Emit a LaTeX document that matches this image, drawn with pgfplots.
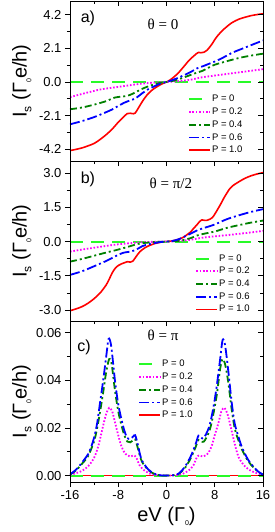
\documentclass[border=0pt]{standalone}
\usepackage{fontspec}
\setmainfont{Liberation Sans}
\newfontfamily\serifth{Liberation Serif}
\usepackage{graphicx}
\usepackage{pgfplots}
\pgfplotsset{compat=1.18}
\definecolor{pzero}{RGB}{40,250,40}
\definecolor{ptwo}{RGB}{255,0,255}
\definecolor{pfour}{RGB}{0,128,0}
\definecolor{psix}{RGB}{0,0,255}
\definecolor{pten}{RGB}{255,0,0}
\newcommand{\lsub}[2]{\raisebox{-0.45ex}{\fontsize{#1}{#1}\selectfont #2}}
\newcommand{\ylab}{I\lsub{12}{s} (Γ\lsub{7}{0}e/h)}
\pgfplotsset{
  legend image code/.code={\draw[#1] (0pt,0pt) -- (21pt,0pt);},
  base/.style={scale only axis, width=193pt, xmin=-16, xmax=16,
    xtick={-16,-8,0,8,16}, minor x tick num=1, minor y tick num=1,
    axis line style={line width=0.8pt},
    every tick/.append style={line width=0.8pt, black},
    major tick length=5pt, minor tick length=3pt,
    tick label style={font=\fontsize{13}{13}\selectfont},
    /pgf/number format/assume math mode=true,
    scaled y ticks=false},
  outer/.style={base, tick align=outside, xtick pos=left, ytick pos=left},
  inner/.style={base, tick align=inside, xtick pos=right, ytick pos=right, xticklabels={}, yticklabels={}},
  leg/.style={legend style={draw=none, fill=none, font=\fontsize{9.5}{9.5}\selectfont,
    row sep=1.2pt, anchor=north west, nodes={inner sep=1pt, text height=7.3pt, text depth=2.2pt}},
    legend cell align=left},
  ylab/.style={ylabel={\ylab}, ylabel style={at={(axis description cs:-0.25,0.5)}, anchor=center, font=\fontsize{20}{20}\selectfont}},
  p0/.style={color=pzero, line width=2pt, dash pattern=on 13pt off 8pt},
  p2/.style={color=ptwo, line width=1.8pt, dash pattern=on 1.6pt off 1.8pt},
  p4/.style={color=pfour, line width=1.8pt, dash pattern=on 7pt off 3pt on 2pt off 3pt},
  p6/.style={color=psix, line width=1.8pt, dash pattern=on 10pt off 3pt on 2pt off 3pt},
  p10/.style={color=pten, line width=1.6pt},
}
\begin{document}
\begin{tikzpicture}
% ---------------- panel a ----------------
\begin{axis}[outer, ylab, leg, at={(0pt,-1pt)}, anchor=north west, height=160pt,
  ymin=-4.95, ymax=5.07, ytick={-4.2,-2.1,0,2.1,4.2}, xticklabels={},
  yticklabel style={/pgf/number format/.cd, fixed, fixed zerofill, precision=1},
  legend style={at={(axis description cs:0.595,0.435)}}]
\addlegendimage{p0}\addlegendentry{P = 0}
\addlegendimage{p2}\addlegendentry{P = 0.2}
\addlegendimage{p4}\addlegendentry{P = 0.4}
\addlegendimage{p6}\addlegendentry{P = 0.6}
\addlegendimage{p10}\addlegendentry{P = 1.0}
\addplot[p10, smooth, forget plot] coordinates {(-16,-4.30) (-15,-4.22) (-14,-4.13) (-13,-4.00) (-12,-3.85) (-11,-3.60) (-10,-3.30) (-9,-2.95) (-8,-2.52) (-7.5,-2.33) (-7,-2.15) (-6.5,-1.98) (-6,-1.96) (-5.5,-1.99) (-5.2,-1.95) (-4.8,-1.72) (-4.45,-1.5) (-4,-1.22) (-3.5,-0.95) (-3,-0.72) (-2.5,-0.54) (-2,-0.4) (-1.5,-0.28) (-1,-0.17) (-0.5,-0.08) (0,0) (0.5,0.1) (1,0.24) (1.5,0.4) (2,0.58) (2.5,0.8) (3,1.02) (3.5,1.25) (4,1.45) (4.5,1.62) (5,1.78) (5.3,1.85) (5.7,1.83) (6.2,1.86) (6.7,1.98) (7.5,2.35) (8,2.65) (8.6,2.95) (9.5,3.3) (10.8,3.7) (12,3.93) (13,4.05) (14,4.15) (15,4.22) (16,4.27)};
\addplot[p0, forget plot] coordinates {(-16,0) (16,0)};
\addplot[p2, smooth, forget plot] coordinates {(-16,-0.95) (-14,-0.75) (-12,-0.56) (-10.8,-0.46) (-9,-0.36) (-8,-0.31) (-6,-0.2) (-5,-0.15) (-4,-0.1) (-2,-0.04) (0,0) (2,0.05) (4,0.14) (5.3,0.25) (6,0.3) (8,0.4) (10,0.5) (12,0.6) (14,0.7) (16,0.8)};
\addplot[p4, smooth, forget plot] coordinates {(-16,-1.71) (-14,-1.6) (-12,-1.42) (-10,-1.2) (-8.6,-0.98) (-7.5,-0.92) (-6.5,-0.87) (-5.5,-0.72) (-4.2,-0.46) (-3,-0.27) (-2,-0.15) (-1,-0.06) (0,0) (1,0.06) (2,0.17) (3,0.3) (4,0.44) (5,0.58) (6,0.7) (7,0.9) (8,1.08) (10,1.3) (12,1.5) (14,1.65) (16,1.77)};
\addplot[p6, smooth, forget plot] coordinates {(-16,-2.65) (-14,-2.45) (-12,-2.2) (-10.8,-2.02) (-9,-1.72) (-8,-1.5) (-7,-1.3) (-6,-1.15) (-5.3,-1.06) (-4.5,-0.85) (-4,-0.7) (-3,-0.45) (-2,-0.27) (-1,-0.1) (0,0) (1,0.12) (2,0.27) (3,0.44) (4,0.62) (5,0.84) (5.5,0.92) (6,0.98) (7,1.13) (8,1.28) (9,1.45) (10,1.65) (11,1.85) (12,2.0) (13,2.15) (14,2.3) (15,2.45) (16,2.6)};
\node[font=\fontsize{16}{16}\selectfont] at (axis description cs:0.093,0.894) {a)};
\node[font=\serifth\fontsize{15}{15}\selectfont] at (axis description cs:0.482,0.856) {θ = 0};
\end{axis}
\begin{axis}[inner, at={(0pt,-1pt)}, anchor=north west, height=160pt,
  ymin=-4.95, ymax=5.07, ytick={-4.2,-2.1,0,2.1,4.2}]
\end{axis}
% ---------------- panel b ----------------
\begin{axis}[outer, ylab, leg, at={(0pt,-161pt)}, anchor=north west, height=160pt,
  ymin=-3.48, ymax=3.53, ytick={-3,-1.5,0,1.5,3}, xticklabels={},
  yticklabel style={/pgf/number format/.cd, fixed, fixed zerofill, precision=1},
  legend style={at={(axis description cs:0.632,0.44)}}]
\addlegendimage{p0}\addlegendentry{P = 0}
\addlegendimage{p2}\addlegendentry{P = 0.2}
\addlegendimage{p4}\addlegendentry{P = 0.4}
\addlegendimage{p6}\addlegendentry{P = 0.6}
\addlegendimage{p10}\addlegendentry{P = 1.0}
\addplot[p10, smooth, forget plot] coordinates {(-16,-3.03) (-15,-2.95) (-14,-2.85) (-13,-2.7) (-12,-2.5) (-11,-2.25) (-10,-1.9) (-9.5,-1.65) (-9,-1.37) (-8.5,-1.17) (-8,-1.05) (-7.5,-0.98) (-7,-0.93) (-6.5,-0.88) (-6,-0.9) (-5.6,-0.86) (-5.2,-0.72) (-4.8,-0.57) (-4.4,-0.44) (-4,-0.35) (-3.5,-0.26) (-3,-0.19) (-2.5,-0.14) (-2,-0.09) (-1,-0.03) (0,0) (1,0.03) (2,0.1) (2.5,0.15) (3,0.22) (3.5,0.32) (4,0.42) (4.5,0.58) (5,0.72) (5.5,0.88) (5.85,0.95) (6.3,0.93) (6.7,0.93) (7.2,0.98) (7.6,1.05) (8,1.2) (8.5,1.42) (9,1.65) (9.5,1.9) (10,2.12) (10.5,2.32) (11,2.45) (12,2.62) (13,2.77) (14,2.88) (15,2.96) (16,3.02)};
\addplot[p0, forget plot] coordinates {(-16,0) (16,0)};
\addplot[p2, smooth, forget plot] coordinates {(-16,-0.44) (-14,-0.35) (-12,-0.27) (-10,-0.19) (-8,-0.12) (-6,-0.07) (-4,-0.03) (-2,-0.01) (0,0) (2,0.02) (4,0.08) (6,0.17) (8,0.23) (10,0.28) (12,0.34) (14,0.4) (16,0.47)};
\addplot[p4, smooth, forget plot] coordinates {(-16,-0.88) (-14,-0.76) (-12,-0.62) (-10,-0.48) (-8,-0.35) (-6,-0.2) (-5,-0.12) (-4,-0.07) (-2,-0.02) (0,0) (2,0.03) (4,0.15) (5,0.26) (6,0.33) (8,0.44) (10,0.6) (12,0.72) (14,0.83) (16,0.92)};
\addplot[p6, smooth, forget plot] coordinates {(-16,-1.46) (-14,-1.3) (-12,-1.08) (-10,-0.85) (-8,-0.58) (-7,-0.48) (-6,-0.44) (-5,-0.35) (-4,-0.2) (-3,-0.12) (-2,-0.07) (-1,-0.02) (0,0) (1,0.03) (2,0.1) (3,0.22) (4,0.35) (5,0.48) (6,0.58) (7,0.66) (8,0.75) (10,0.98) (12,1.15) (14,1.3) (16,1.42)};
\node[font=\fontsize{16}{16}\selectfont] at (axis description cs:0.093,0.8875) {b)};
\node[font=\serifth\fontsize{15}{15}\selectfont] at (axis description cs:0.523,0.8625) {θ = π/2};
\end{axis}
\begin{axis}[inner, at={(0pt,-161pt)}, anchor=north west, height=160pt,
  ymin=-3.48, ymax=3.53, ytick={-3,-1.5,0,1.5,3}]
\end{axis}
% ---------------- panel c ----------------
\begin{axis}[outer, ylab, leg, at={(0pt,-321pt)}, anchor=north west, height=161pt,
  ymin=-0.0027, ymax=0.065, ytick={0,0.02,0.04,0.06},
  yticklabel style={/pgf/number format/.cd, fixed, fixed zerofill, precision=2},
  xlabel={eV (Γ\lsub{7}{0})}, xlabel style={font=\fontsize{20}{20}\selectfont},
  legend style={at={(axis description cs:0.337,0.78)}}]
\addlegendimage{p0}\addlegendentry{P = 0}
\addlegendimage{p2}\addlegendentry{P = 0.2}
\addlegendimage{p4}\addlegendentry{P = 0.4}
\addlegendimage{p6}\addlegendentry{P = 0.6}
\addlegendimage{p10}\addlegendentry{P = 1.0}
\addplot[p10, forget plot] coordinates {(-16,0) (16,0)};
\addplot[p0, forget plot] coordinates {(-16,0) (16,0)};
\addplot[p2, smooth, forget plot] coordinates {(-16,0.0003) (-15,0.001) (-14,0.002) (-13,0.0039) (-12,0.0075) (-11.3,0.0125) (-10.5,0.021) (-10,0.026) (-9.5,0.0285) (-9,0.027) (-8.5,0.022) (-8,0.017) (-7.5,0.0125) (-7,0.0098) (-6.5,0.0085) (-6,0.008) (-5.4,0.0085) (-5,0.0075) (-4.5,0.0045) (-4,0.0028) (-3,0.0011) (-2,0.0003) (0,0) (2,0.0003) (3,0.0011) (4,0.0028) (4.5,0.0045) (5,0.0075) (5.4,0.0085) (6,0.008) (6.5,0.0085) (7,0.0098) (7.5,0.0125) (8,0.017) (8.6,0.022) (9.1,0.027) (9.6,0.0285) (10.1,0.026) (10.6,0.021) (11.4,0.0125) (12,0.0075) (13,0.0039) (14,0.002) (15,0.001) (16,0.0003)};
\addplot[p4, smooth, forget plot] coordinates {(-16,0.0004) (-15,0.0022) (-14,0.005) (-13,0.0082) (-12,0.0145) (-11.5,0.02) (-11,0.027) (-10.5,0.035) (-10,0.0435) (-9.5,0.049) (-9.1,0.047) (-8.8,0.041) (-8.5,0.035) (-8,0.027) (-7.5,0.0215) (-7,0.017) (-6.5,0.0143) (-6,0.014) (-5.5,0.015) (-5.2,0.0153) (-4.8,0.012) (-4.4,0.0082) (-4,0.0055) (-3,0.0023) (-2,0.0007) (-1,0.0001) (0,0) (1,0.0001) (2,0.0007) (3,0.003) (4,0.0072) (4.8,0.0118) (5.3,0.015) (5.7,0.0145) (6.2,0.0143) (7,0.018) (7.5,0.0225) (8,0.029) (8.4,0.035) (8.9,0.045) (9.3,0.049) (9.7,0.047) (10.2,0.04) (10.8,0.028) (11.3,0.02) (11.9,0.015) (12.5,0.011) (13.5,0.0062) (14.5,0.0032) (15.3,0.0014) (16,0.0004)};
\addplot[p6, smooth, forget plot] coordinates {(-16,0.0005) (-15,0.0025) (-14,0.0055) (-13,0.009) (-12.5,0.012) (-12,0.016) (-11.5,0.022) (-11,0.031) (-10.5,0.040) (-10,0.050) (-9.6,0.0575) (-9.2,0.055) (-8.8,0.046) (-8.5,0.039) (-8,0.030) (-7.5,0.024) (-7,0.019) (-6.5,0.0158) (-6,0.0155) (-5.5,0.0165) (-5.2,0.017) (-4.8,0.0135) (-4.4,0.009) (-4,0.006) (-3,0.0025) (-2,0.0008) (-1,0.0001) (0,0) (1,0.0001) (2,0.0008) (3,0.0035) (4,0.008) (4.8,0.013) (5.3,0.0168) (5.7,0.016) (6.2,0.0158) (7,0.02) (7.5,0.025) (8,0.032) (8.4,0.039) (8.9,0.049) (9.3,0.057) (9.7,0.055) (10.2,0.045) (10.8,0.031) (11.3,0.022) (11.9,0.0166) (12.5,0.012) (13.5,0.0068) (14.5,0.0035) (15.3,0.0015) (16,0.0004)};
\node[font=\fontsize{16}{16}\selectfont] at (axis description cs:0.0725,0.838) {c)};
\node[font=\serifth\fontsize{15}{15}\selectfont] at (axis description cs:0.482,0.913) {θ = π};
\end{axis}
\begin{axis}[inner, at={(0pt,-321pt)}, anchor=north west, height=161pt,
  ymin=-0.0027, ymax=0.065, ytick={0,0.02,0.04,0.06}]
\end{axis}
\pgfresetboundingbox
\path[use as bounding box] (-70pt,0pt) rectangle (205pt,-532pt);
\end{tikzpicture}
\end{document}
